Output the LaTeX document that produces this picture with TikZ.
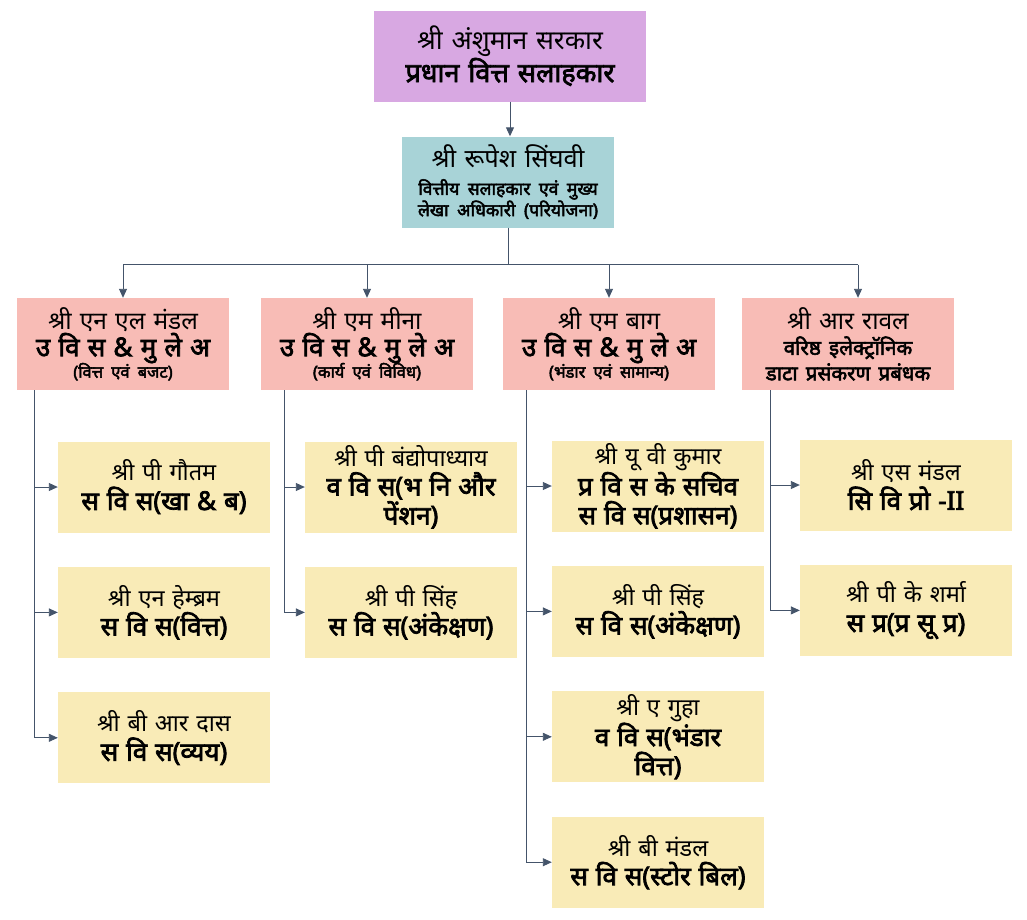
\documentclass[tikz,border=0pt]{standalone}
\usepackage{fontspec}
\setmainfont[Script=Devanagari, BoldFont={Noto Sans}, BoldFeatures={FakeBold=2.8}]{Noto Sans}
\usetikzlibrary{positioning,arrows.meta}
\definecolor{headviolet}{RGB}{216,168,226}
\definecolor{faTeal}{RGB}{168,211,215}
\definecolor{deptPink}{RGB}{248,188,182}
\definecolor{staffYellow}{RGB}{249,235,183}
\definecolor{linkSlate}{RGB}{68,84,106}
\setlength{\lineskiplimit}{-30pt}
\tikzset{org box/.style={draw=none, minimum width=212pt, minimum height=91pt,
    text width=210pt, align=center, inner sep=1pt,
    font=\fontsize{23.5}{29}\selectfont},
  head box/.style={org box, fill=headviolet, minimum width=272pt, text width=266pt,
    font=\fontsize{26.5}{28}\selectfont},
  fa box/.style={org box, fill=faTeal, font=\fontsize{25.5}{17}\selectfont},
  dept box/.style={org box, fill=deptPink, minimum height=92pt,
    font=\fontsize{24.5}{25.5}\selectfont},
  staff box/.style={org box, fill=staffYellow},
  link/.style={draw=linkSlate, line width=0.9pt},
  arrow link/.style={link, -{Triangle[length=9pt,width=8pt]}}}
\newcommand{\ttl}[2]{{\fontsize{#1}{#1}\selectfont\bfseries #2}}
\begin{document}
\begin{tikzpicture}[x=1pt,y=-1pt,node distance=34pt]
  \useasboundingbox (0,0) rectangle (1027,919);
  % top of the chart
  \node[head box] (pfa) at (510,56) {श्री अंशुमान सरकार\\ \ttl{27}{प्रधान वित्त सलाहकार}};
  \node[fa box] (fa) at (508,182) {श्री रूपेश सिंघवी\\[10pt] \ttl{17.5}{वित्तीय सलाहकार एवं मुख्य}\\ \ttl{17.5}{लेखा अधिकारी (परियोजना)}};
  % the four sections
  \node[dept box] (fb) at (123,344) {श्री एन एल मंडल\\ \ttl{26}{उ वि स \& मु ले अ}\\[-4pt] \ttl{16.5}{(वित्त एवं बजट)}};
  \node[dept box] (wm) at (367,344) {श्री एम मीना\\ \ttl{26}{उ वि स \& मु ले अ}\\[-4pt] \ttl{16.5}{(कार्य एवं विविध)}};
  \node[dept box] (sg) at (609,344) {श्री एम बाग\\ \ttl{26}{उ वि स \& मु ले अ}\\[-4pt] \ttl{16.5}{(भंडार एवं सामान्य)}};
  \node[dept box] (edp) at (848,344) {श्री आर रावल\\ \ttl{20.5}{वरिष्ठ इलेक्ट्रॉनिक}\\ \ttl{20.5}{डाटा प्रसंकरण प्रबंधक}};
  % staff under each section
  \node[staff box] (fb1) at (164,487) {श्री पी गौतम\\ \ttl{26}{स वि स(खा \& ब)}};
  \node[staff box, below=of fb1] (fb2) {श्री एन हेम्ब्रम\\ \ttl{26}{स वि स(वित्त)}};
  \node[staff box, below=of fb2] (fb3) {श्री बी आर दास\\ \ttl{26}{स वि स(व्यय)}};
  \node[staff box] (wm1) at (411,487) {श्री पी बंद्योपाध्याय\\ \ttl{26}{व वि स(भ नि और}\\ \ttl{26}{पेंशन)}};
  \node[staff box, below=of wm1] (wm2) {श्री पी सिंह\\ \ttl{26}{स वि स(अंकेक्षण)}};
  \node[staff box] (sg1) at (658,486) {श्री यू वी कुमार\\ \ttl{26}{प्र वि स के सचिव}\\ \ttl{26}{स वि स(प्रशासन)}};
  \node[staff box, below=of sg1] (sg2) {श्री पी सिंह\\ \ttl{26}{स वि स(अंकेक्षण)}};
  \node[staff box, below=of sg2] (sg3) {श्री ए गुहा\\ \ttl{26}{व वि स(भंडार}\\ \ttl{26}{वित्त)}};
  \node[staff box, below=of sg3] (sg4) {श्री बी मंडल\\ \ttl{26}{स वि स(स्टोर बिल)}};
  \node[staff box] (edp1) at (906,485) {श्री एस मंडल\\ \ttl{26}{सि वि प्रो -II}};
  \node[staff box, below=of edp1] (edp2) {श्री पी के शर्मा\\ \ttl{26}{स प्र(प्र सू प्र)}};
  % connectors
  \draw[arrow link] (pfa.south) -- (pfa.south|-fa.north);
  \coordinate (bus) at ([yshift=-37pt]fa.south);
  \draw[link] (fa.south) -- (bus);
  \draw[link] (fb.north|-bus) -- ([xshift=10pt]edp.north|-bus);
  \foreach \d/\s in {fb/0, wm/0, sg/0, edp/10}
    \draw[arrow link] ([xshift=\s pt]\d.north|-bus) -- ([xshift=\s pt]\d.north);
  \coordinate (fbt) at ([xshift=18pt]fb.south west);
  \coordinate (wmt) at ([xshift=24pt]wm.south west);
  \coordinate (sgt) at ([xshift=24pt]sg.south west);
  \coordinate (edpt) at ([xshift=29pt]edp.south west);
  \foreach \s in {fb1,fb2,fb3} \draw[arrow link] (fbt) |- (\s.west);
  \foreach \s in {wm1,wm2} \draw[arrow link] (wmt) |- (\s.west);
  \foreach \s in {sg1,sg2,sg3,sg4} \draw[arrow link] (sgt) |- (\s.west);
  \foreach \s in {edp1,edp2} \draw[arrow link] (edpt) |- (\s.west);
\end{tikzpicture}
\end{document}
